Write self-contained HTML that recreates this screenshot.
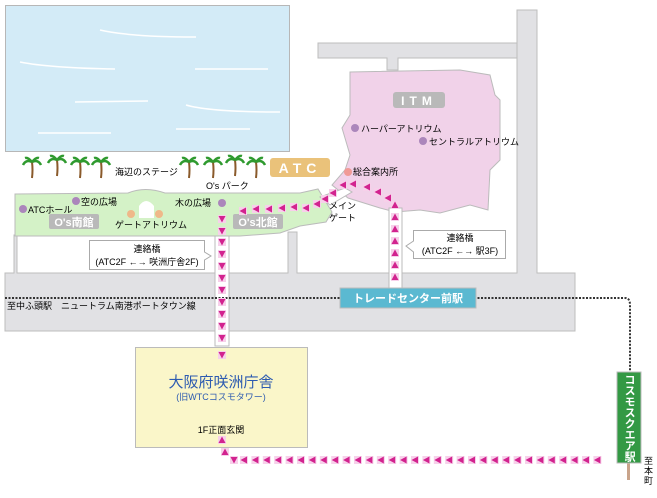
<!DOCTYPE html>
<html><head><meta charset="utf-8"><style>
body{margin:0;background:#fff;}
svg text{font-family:"Liberation Sans","Noto Sans CJK JP",sans-serif;}
</style></head><body>
<svg width="657" height="493" viewBox="0 0 657 493" xmlns="http://www.w3.org/2000/svg">
<defs>
<g id="tl"><rect x="-4" y="-4" width="8" height="8" fill="#f7d0ea"/><path d="M-3.5,0 L3,-3.5 L3,3.5Z" fill="#d2238f"/></g>
<g id="td"><rect x="-4" y="-4" width="8" height="8" fill="#f7d0ea"/><path d="M0,3.5 L-3.5,-3 L3.5,-3Z" fill="#d2238f"/></g>
<g id="tu"><rect x="-4" y="-4" width="8" height="8" fill="#f7d0ea"/><path d="M0,-3.5 L-3.5,3 L3.5,3Z" fill="#d2238f"/></g>
<g id="palm"><path d="M0,0 Q1,8 0,16" stroke="#8a5a2b" stroke-width="2" fill="none"/><path d="M0,0 Q-6,-3 -9,3 M0,0 Q6,-3 9,3 M0,0 Q-4,-5 -7,-4 M0,0 Q4,-5 7,-4" stroke="#2f9a2f" stroke-width="2.5" fill="none"/></g>
</defs>
<!-- sea -->
<rect x="5.5" y="5.5" width="284" height="146" fill="#d3ebf7" stroke="#b7b7b7"/>
<g stroke="#fff" stroke-width="1.5" fill="none"><path d="M100,30 Q130,37 196,37"/><path d="M20,62 Q50,68 115,69"/><path d="M195,69 L268,69"/><path d="M75,102 L148,101"/><path d="M186,105 Q210,112 280,112"/><path d="M38,133 L111,133"/><path d="M176,129 L250,129"/></g>
<!-- roads -->
<g fill="#e1e1e4" stroke="#bdbdbd">
<path d="M517,10 H537 V273 H575 V331 H5 V273 H14 V235 H17 V273 H288 V232 H297 V273 H517 Z"/>
<path d="M318,43 H517 V58 H398 V70 H387 V58 H318 Z"/>
</g>
<rect x="18" y="240" width="268" height="32" fill="#fff"/>
<!-- O's buildings -->
<path d="M15,194 L128,193 Q145,186 165,193 L300,193 L318,189 L332,212 L326,222 L300,226 L280,233 L240,236 L15,236 Z" fill="#d4f2c7" stroke="#bbbbbb"/>
<path d="M139,218 V206 Q146,196 154,206 V218 Z" fill="#fff"/>
<!-- ITM -->
<path d="M350,72 L460,70 L490,75 L495,95 L500,100 L500,160 L490,170 L488,210 L470,205 L440,213 L420,210 L395,212 L380,208 L348,198 L332,185 L345,170 L350,155 L342,128 L350,115 Z" fill="#f1d2e9" stroke="#bbbbbb"/>
<path d="M320,197 L345,188 L352,192 L330,205 Z" fill="#fff" stroke="#bbb"/>
<!-- bridge bands -->
<rect x="215" y="236" width="14" height="110" fill="#fff" stroke="#bbb"/>
<rect x="389" y="208" width="13" height="80" fill="#fff" stroke="#bbb"/>
<!-- prefectural building -->
<rect x="135.5" y="347.5" width="172" height="100" fill="#faf6c9" stroke="#bbbbbb"/>
<!-- railway -->
<path d="M5,298 H625 Q630,298 630,305 V375" stroke="#333" stroke-width="2" stroke-dasharray="2,1.5" fill="none"/>
<rect x="340" y="288" width="136" height="20" fill="#5bb9d1" stroke="#bbb"/>
<text x="408" y="302" font-size="11" fill="#fff" text-anchor="middle" font-weight="bold">トレードセンター前駅</text>
<rect x="627" y="462" width="3" height="18" fill="#c9a48b"/>
<rect x="617" y="372" width="24" height="91" fill="#339944" stroke="#bbb"/>
<text x="629" y="418" font-size="11" fill="#fff" text-anchor="middle" font-weight="bold" writing-mode="tb" glyph-orientation-vertical="0" style="writing-mode:vertical-rl" dominant-baseline="middle">コスモスクエア駅</text>
<text font-size="9" fill="#000"><tspan x="644" y="464">至</tspan><tspan x="644" y="474">本</tspan><tspan x="644" y="484">町</tspan></text>
<text x="7" y="309" font-size="9">至中ふ頭駅　ニュートラム南港ポートタウン線</text>
<!-- palms -->
<use href="#palm" x="32" y="162"/><use href="#palm" x="57" y="160"/><use href="#palm" x="80" y="162"/><use href="#palm" x="101" y="162"/>
<use href="#palm" x="189" y="162"/><use href="#palm" x="213" y="162"/><use href="#palm" x="235" y="160"/><use href="#palm" x="256" y="162"/>
<text x="115" y="175" font-size="9">海辺のステージ</text>
<rect x="270" y="158" width="60" height="19" rx="3" fill="#eac27a"/>
<text x="300" y="173" font-size="14" fill="#fff" text-anchor="middle" font-weight="bold" letter-spacing="5">ATC</text>
<text x="206" y="189" font-size="9">O's パーク</text>
<!-- labels O's -->
<circle cx="23" cy="209" r="4" fill="#ab86bb"/><text x="28" y="213" font-size="9">ATCホール</text>
<circle cx="76" cy="201" r="4" fill="#ab86bb"/><text x="81" y="205" font-size="9">空の広場</text>
<circle cx="131" cy="214" r="4" fill="#efb889"/><circle cx="159" cy="214" r="4" fill="#efb889"/>
<text x="115" y="228" font-size="9">ゲートアトリウム</text>
<circle cx="222" cy="203" r="4" fill="#ab86bb"/><text x="175" y="206" font-size="9">木の広場</text>
<rect x="49" y="214" width="50" height="15" rx="2" fill="#b9b9b9"/><text x="74" y="226" font-size="11" fill="#fff" text-anchor="middle" font-weight="bold">O's南館</text>
<rect x="233" y="214" width="50" height="15" rx="2" fill="#b9b9b9"/><text x="258" y="226" font-size="11" fill="#fff" text-anchor="middle" font-weight="bold">O's北館</text>
<text x="329" y="209" font-size="9">メイン</text><text x="329" y="221" font-size="9">ゲート</text>
<!-- ITM labels -->
<rect x="393" y="92" width="52" height="16" rx="3" fill="#b9b9b9"/><text x="419" y="105" font-size="12" fill="#fff" text-anchor="middle" font-weight="bold" letter-spacing="5">ITM</text>
<circle cx="355" cy="128" r="4" fill="#ab86bb"/><text x="361" y="132" font-size="9">ハーパーアトリウム</text>
<circle cx="423" cy="141" r="4" fill="#ab86bb"/><text x="429" y="145" font-size="9">セントラルアトリウム</text>
<circle cx="348" cy="172" r="4" fill="#f09a96"/><text x="353" y="175" font-size="9">総合案内所</text>
<!-- callouts -->
<path d="M89.5,240.5 H204.5 V252 L211,256 L204.5,260 V269.5 H89.5 Z" fill="#fff" stroke="#aaa"/>
<text x="147" y="252" font-size="9" text-anchor="middle">連絡橋</text><text x="147" y="265" font-size="9" text-anchor="middle">(ATC2F ←→ 咲洲庁舎2F)</text>
<path d="M413.5,230.5 H505.5 V258.5 H413.5 V252 L406,246 L413.5,241 Z" fill="#fff" stroke="#aaa"/>
<text x="460" y="241" font-size="9" text-anchor="middle">連絡橋</text><text x="460" y="254" font-size="9" text-anchor="middle">(ATC2F ←→ 駅3F)</text>
<!-- prefectural text -->
<text x="221" y="387" font-size="15" fill="#2d5bb0" text-anchor="middle">大阪府咲洲庁舎</text>
<text x="221" y="400" font-size="9" fill="#2d5bb0" text-anchor="middle">(旧WTCコスモタワー)</text>
<text x="221" y="433" font-size="9" text-anchor="middle">1F正面玄関</text>
<!-- arrows -->
<g>
<use href="#tl" x="243" y="211"/><use href="#tl" x="256" y="209"/><use href="#tl" x="269" y="209"/><use href="#tl" x="282" y="208"/><use href="#tl" x="294" y="207"/><use href="#tl" x="306" y="208"/><use href="#tl" x="317" y="204"/>
<use href="#tl" x="325" y="199"/><use href="#tl" x="333" y="193"/><use href="#tl" x="343" y="185"/><use href="#tl" x="353" y="184"/><use href="#tl" x="367" y="187"/><use href="#tl" x="378" y="192"/><use href="#tl" x="388" y="198"/><use href="#tu" x="395" y="205"/>
<use href="#tu" x="395" y="217"/><use href="#tu" x="395" y="229"/><use href="#tu" x="395" y="241"/><use href="#tu" x="395" y="253"/><use href="#tu" x="395" y="265"/><use href="#tu" x="395" y="277"/>
<use href="#td" x="222" y="219"/><use href="#td" x="222" y="231"/>
<use href="#td" x="222" y="242"/><use href="#td" x="222" y="254"/><use href="#td" x="222" y="266"/><use href="#td" x="222" y="278"/><use href="#td" x="222" y="290"/><use href="#td" x="222" y="302"/><use href="#td" x="222" y="314"/><use href="#td" x="222" y="326"/><use href="#td" x="222" y="338"/><use href="#td" x="222" y="355"/>
<use href="#tu" x="222" y="440"/><use href="#tu" x="225" y="452"/><use href="#td" x="234" y="460"/>
</g>
<g id="row"></g>
<script>
var g=document.getElementById('row');
for(var x=244;x<=608;x+=11.4){var u=document.createElementNS('http://www.w3.org/2000/svg','use');u.setAttribute('href','#tl');u.setAttribute('x',x.toFixed(1));u.setAttribute('y','460');g.appendChild(u);}
</script>
</svg>
</body></html>
